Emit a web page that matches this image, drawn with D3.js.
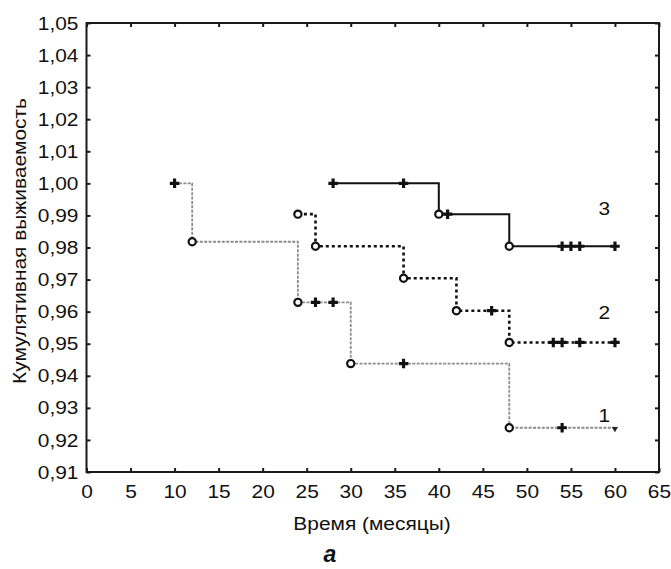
<!DOCTYPE html>
<html>
<head>
<meta charset="utf-8">
<script src="https://cdn.jsdelivr.net/npm/d3@7"></script>
<style>
  html, body { margin: 0; padding: 0; background: #fff; }
  svg { display: block; font-family: "Liberation Sans", Arial, sans-serif; }
</style>
</head>
<body>
<svg id="chart" width="671" height="569"></svg>
<script>
// Kaplan–Meier cumulative survival, three groups

const xTicks = d3.range(0, 66, 5);
const yTicks = [0.91, 0.92, 0.93, 0.94, 0.95, 0.96, 0.97, 0.98, 0.99, 1.00, 1.01, 1.02, 1.03, 1.04, 1.05];

// group 1
const months1   = [10, 12, 24, 30, 48, 60];
const surv1     = [1.000, 0.9818, 0.9629, 0.9438, 0.9238, 0.9238];
const events1   = [12, 24, 30, 48];
const censored1 = [10, 26, 28, 36, 54];
const lastObs1  = [60];

// group 2
const months2   = [24, 26, 36, 42, 48, 60];
const surv2     = [0.9904, 0.9804, 0.9704, 0.9603, 0.9504, 0.9504];
const events2   = [24, 26, 36, 42, 48];
const censored2 = [46, 53, 54, 56, 60];

// group 3
const months3   = [28, 40, 48, 60];
const surv3     = [1.000, 0.9904, 0.9804, 0.9804];
const events3   = [40, 48];
const censored3 = [28, 36, 41, 54, 55, 56, 60];

const groupNames = ["1", "2", "3"];

const svg = d3.select("#chart");
const FONT = 19;      // tick / label size
const WIDEN = 1.1;    // horizontal widening of the lettering

const x = d3.scaleLinear().domain([0, 65]).range([86.5, 659]);
const y = d3.scaleLinear().domain([0.91, 1.05]).range([472, 23]);

const fmt = d => d3.format(".2f")(d).replace(".", ",");

// widen a text element about its own anchor
function widen(sel) {
  sel.each(function () {
    const t = d3.select(this);
    const tx = +t.attr("x") || 0, ty = +t.attr("y") || 0;
    t.attr("x", 0).attr("y", 0)
     .attr("transform", `translate(${tx},${ty}) scale(${WIDEN},1)`);
  });
}

// axes with inward ticks
const gx = svg.append("g").attr("transform", `translate(0,${y.range()[0]})`)
  .call(d3.axisBottom(x).tickValues(xTicks).tickSizeInner(-4).tickSizeOuter(0).tickPadding(13).tickFormat(d3.format("d")));
const gy = svg.append("g").attr("transform", `translate(${x.range()[0]},0)`)
  .call(d3.axisLeft(y).tickValues(yTicks).tickSizeInner(-4).tickSizeOuter(0).tickPadding(8).tickFormat(fmt));
const gxTop = svg.append("g").attr("transform", `translate(0,${y.range()[1]})`)
  .call(d3.axisTop(x).tickValues(xTicks).tickSizeInner(-4).tickSizeOuter(0).tickFormat(""));
const gyRight = svg.append("g").attr("transform", `translate(${x.range()[1]},0)`)
  .call(d3.axisRight(y).tickValues(yTicks).tickSizeInner(-4).tickSizeOuter(0).tickFormat(""));

[gx, gy, gxTop, gyRight].forEach(g => {
  g.select(".domain").remove();
  g.selectAll(".tick line").attr("stroke", "#1a1a1a").attr("stroke-width", 2);
  g.selectAll("text").attr("font-size", FONT).attr("fill", "#111")
   .attr("font-family", "Liberation Sans, Arial, sans-serif");
});
gx.selectAll("text").call(widen);
gy.selectAll("text").call(widen);

// plot frame
svg.append("rect")
  .attr("x", x.range()[0]).attr("y", y.range()[1])
  .attr("width", x.range()[1] - x.range()[0])
  .attr("height", y.range()[0] - y.range()[1])
  .attr("fill", "none").attr("stroke", "#1a1a1a").attr("stroke-width", 2);

// survival curves
const groups = [
  { months: months1, surv: surv1, events: events1, censored: censored1, ends: lastObs1,
    stroke: "#8c8c8c", width: 1.8, dash: "3,1.4" },
  { months: months2, surv: surv2, events: events2, censored: censored2, ends: [],
    stroke: "#111", width: 2.6, dash: "3,3" },
  { months: months3, surv: surv3, events: events3, censored: censored3, ends: [],
    stroke: "#111", width: 2, dash: null }
];

const survAt = (g, t) => g.surv[d3.bisectRight(g.months, t) - 1];

const step = d3.line().x(d => x(d[0])).y(d => y(d[1])).curve(d3.curveStepAfter);

groups.forEach(g => {
  svg.append("path")
    .datum(d3.zip(g.months, g.surv))
    .attr("d", step)
    .attr("fill", "none")
    .attr("stroke", g.stroke)
    .attr("stroke-width", g.width)
    .attr("stroke-dasharray", g.dash);
});

groups.forEach(g => {
  // censored observations
  svg.selectAll(null).data(g.censored).join("path")
    .attr("d", d3.symbol(d3.symbolCross, 50))
    .attr("transform", d => `translate(${x(d)},${y(survAt(g, d))})`)
    .attr("fill", "#111");
  // events
  svg.selectAll(null).data(g.events).join("circle")
    .attr("cx", d => x(d)).attr("cy", d => y(survAt(g, d)))
    .attr("r", 3.6)
    .attr("fill", "#fff").attr("stroke", "#111").attr("stroke-width", 2.2);
  // last observation
  svg.selectAll(null).data(g.ends).join("path")
    .attr("d", d3.symbol(d3.symbolTriangle, 16))
    .attr("transform", d => `translate(${x(d)},${y(survAt(g, d)) + 1}) rotate(180)`)
    .attr("fill", "#222");
});

// group numbers
const labelMonth = 58.8;
const labelSurv = [0.9278, 0.9597, 0.9924];
svg.selectAll(null).data(groupNames).join("text")
  .attr("x", x(labelMonth))
  .attr("y", (d, i) => y(labelSurv[i]) + 0.36 * FONT)
  .attr("text-anchor", "middle")
  .attr("font-size", FONT).attr("fill", "#111")
  .text(d => d)
  .call(widen);

// axis titles
svg.append("text")
  .attr("text-anchor", "middle")
  .attr("font-size", FONT).attr("fill", "#111")
  .attr("transform", `translate(372,530) scale(${WIDEN},1)`)
  .text("Время (месяцы)");

svg.append("text")
  .attr("text-anchor", "middle")
  .attr("font-size", FONT).attr("fill", "#111")
  .attr("transform", `translate(26,241) rotate(-90) scale(${WIDEN},1)`)
  .text("Кумулятивная выживаемость");

svg.append("text")
  .attr("text-anchor", "middle")
  .attr("font-size", 23).attr("font-weight", "bold").attr("font-style", "italic")
  .attr("fill", "#111")
  .attr("transform", "translate(330,562)")
  .text("a");
</script>
</body>
</html>
